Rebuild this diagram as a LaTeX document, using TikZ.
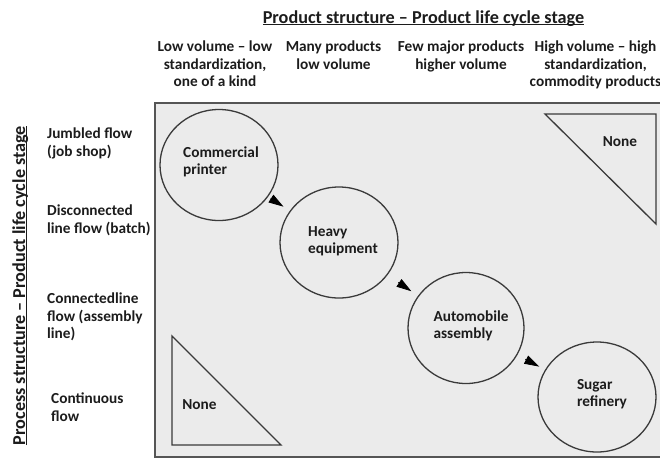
\documentclass[tikz,border=0pt]{standalone}
\usepackage{fontspec}
\setmainfont{Carlito}
\usetikzlibrary{shapes.geometric,arrows.meta}

\definecolor{panel}{HTML}{EBEBEB}
\definecolor{frame}{HTML}{555555}
\definecolor{ink}{HTML}{1C1C1C}
\definecolor{outline}{HTML}{3A3A3A}

% text with a rule set just under its baseline
\newcommand\ulline[1]{\setbox0\hbox{#1}\rlap{\rule[-2pt]{\wd0}{1pt}}\box0}

\tikzset{
  headfont/.style={font=\bfseries\fontsize{18.2}{20}\selectfont, text=ink},
  labfont/.style={font=\bfseries\fontsize{15.3}{17.5}\selectfont, text=ink},
  colhead/.style={labfont, align=center, anchor=north, inner sep=0pt},
  rowhead/.style={labfont, align=left, anchor=north west, inner sep=0pt},
  blob/.style={ellipse, draw=outline, line width=1.3pt, minimum width=118pt, minimum height=111pt, inner sep=0pt},
  blobtext/.style={labfont, align=left, inner sep=0pt},
  corner/.style={draw=outline, line width=1.3pt},
  flowarrow/.style={-{Triangle[length=15pt,width=9pt]}, line width=0.8pt, draw=black},
}

\begin{document}
\begin{tikzpicture}[x=1pt,y=-1pt]
\useasboundingbox (0,0) rectangle (660,459);
\clip (0,0) rectangle (660,459);

% grey matrix panel
\draw[fill=panel, draw=frame, line width=1.5pt] (155,103) rectangle (680,457);

% axis titles
\node[headfont, anchor=base, inner sep=0pt] (ptitle) at (423.5,23)
  {\ulline{Product structure -- Product life cycle stage}};
\node[headfont, anchor=base, inner sep=0pt, rotate=90] (vtitle) at (25,285.5)
  {\ulline{Process structure -- Product life cycle stage}};

% product stages
\node[colhead] (col1) at (215,41) {Low volume -- low\\standardization,\\one of a kind};
\node[colhead] (col2) at (333.5,41) {Many products\\low volume};
\node[colhead] (col3) at (461,41) {Few major products\\higher volume};
\node[colhead] (col4) at (595.5,41) {High volume -- high\\standardization,\\commodity products};

% process stages
\node[rowhead] (row1) at (47,128) {Jumbled flow\\(job shop)};
\node[rowhead] (row2) at (47,205) {Disconnected\\line flow (batch)};
\node[rowhead] (row3) at (47,293) {Connectedline\\flow (assembly\\line)};
\node[rowhead] (row4) at (51,393) {Continuous\\flow};

% empty corners
\draw[corner] (545,114) -- (656,114) -- (656,224) -- cycle;
\node[labfont, inner sep=0pt] (none1) at (620,142) {None};
\draw[corner] (172,336) -- (172,445) -- (281,445) -- cycle;
\node[labfont, inner sep=0pt] (none2) at (199.5,405) {None};

% industries along the diagonal
\node[blob] (c1) at (219,165) {};
\node[blob] (c2) at (339,242.5) {};
\node[blob, minimum width=116pt] (c3) at (466,328) {};
\node[blob, minimum height=110pt] (c4) at (597,397) {};

\node[blobtext] (t1) at (221,162) {Commercial\\printer};
\node[blobtext] (t2) at (343,241) {Heavy\\equipment};
\node[blobtext] (t3) at (471,326) {Automobile\\assembly};
\node[blobtext] (t4) at (602,394) {Sugar\\refinery};

\draw[flowarrow, shorten <=3pt, shorten >=7.5pt] (c1) -- (c2);
\draw[flowarrow, shorten <=13pt, shorten >=8pt] (c2) -- (c3);
\draw[flowarrow, shorten <=9pt, shorten >=6.5pt] (c3) -- (c4);
\end{tikzpicture}
\end{document}
